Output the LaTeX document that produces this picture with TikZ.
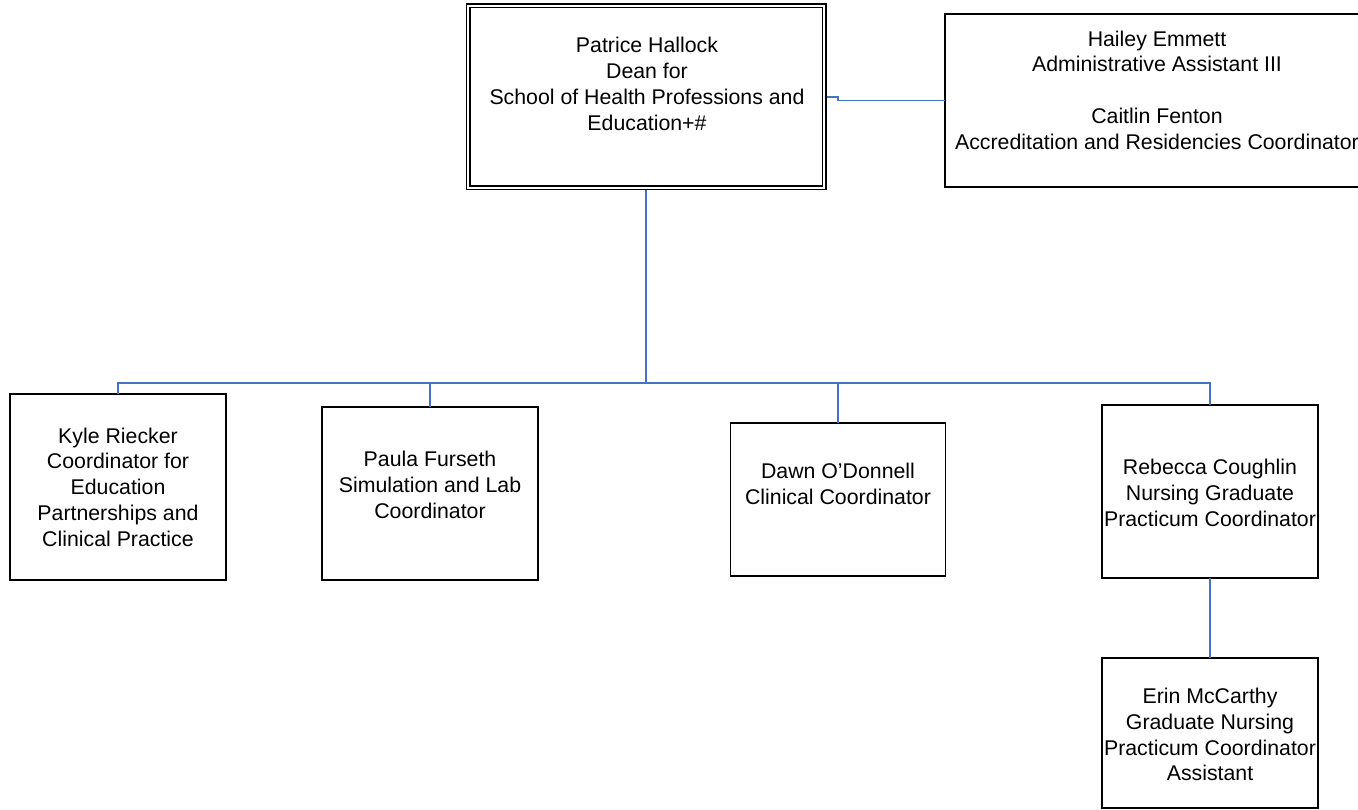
\documentclass[tikz,border=0pt]{standalone}
\usepackage{fontspec}
\setmainfont{Liberation Sans}
\definecolor{linkblue}{HTML}{4472C4}
\begin{document}
\begin{tikzpicture}[x=1pt,y=-1pt,
  box/.style={draw=black,line width=1.6pt,fill=white,outer sep=0pt,inner sep=0pt,rectangle},
  lbl/.style={align=center,inner sep=0pt,font=\fontsize{21.3}{25.8}\selectfont},
  conn/.style={draw=linkblue,line width=1.5pt}]
\clip (0,0) rectangle (1358,810);
% connectors first (under boxes)
\coordinate (deanS) at (646,190);
\coordinate (bus) at (646,383);
\coordinate (deanE) at (826.5,97);
\coordinate (jog) at (838,97);
% boxes
\node[box,double,line width=1.3pt,double distance=2.4pt,minimum width=356pt,minimum height=182pt] (dean) at (646,97) {};
\node[box,minimum width=424pt,minimum height=173pt] (staff) at (1157,100.5) {};
\node[box,minimum width=216pt,minimum height=186pt] (kyle) at (118,487) {};
\node[box,minimum width=216pt,minimum height=173pt] (paula) at (430,493.5) {};
\node[box,minimum width=215pt,minimum height=153pt] (dawn) at (838,499.5) {};
\node[box,minimum width=216pt,minimum height=173pt] (rebecca) at (1210,491.5) {};
\node[box,minimum width=216pt,minimum height=150pt] (erin) at (1210,733) {};
% connectors
\draw[conn] (deanE) -- (jog) |- (staff.west);
\draw[conn] (deanS) -- (bus);
\draw[conn] (bus) -| (kyle.north);
\draw[conn] (bus) -| (paula.north);
\draw[conn] (bus) -| (dawn.north);
\draw[conn] (bus) -| (rebecca.north);
\draw[conn] (rebecca.south) -- (erin.north);
% labels
\node[lbl] (tdean) at (647,84) {Patrice Hallock\\Dean for\\School of Health Professions and\\Education+\#};
\node[lbl] (tstaff) at (1157,90) {Hailey Emmett\\Administrative Assistant III\\[25.8pt]Caitlin Fenton\\Accreditation and Residencies Coordinator};
\node[lbl] (tkyle) at (118,487) {Kyle Riecker\\Coordinator for\\Education\\Partnerships and\\Clinical Practice};
\node[lbl] (tpaula) at (430,485) {Paula Furseth\\Simulation and Lab\\Coordinator};
\node[lbl] (tdawn) at (838,484) {Dawn O'Donnell\\Clinical Coordinator};
\node[lbl] (trebecca) at (1210,493) {Rebecca Coughlin\\Nursing Graduate\\Practicum Coordinator};
\node[lbl] (terin) at (1210,734.5) {Erin McCarthy\\Graduate Nursing\\Practicum Coordinator\\Assistant};
\end{tikzpicture}
\end{document}
